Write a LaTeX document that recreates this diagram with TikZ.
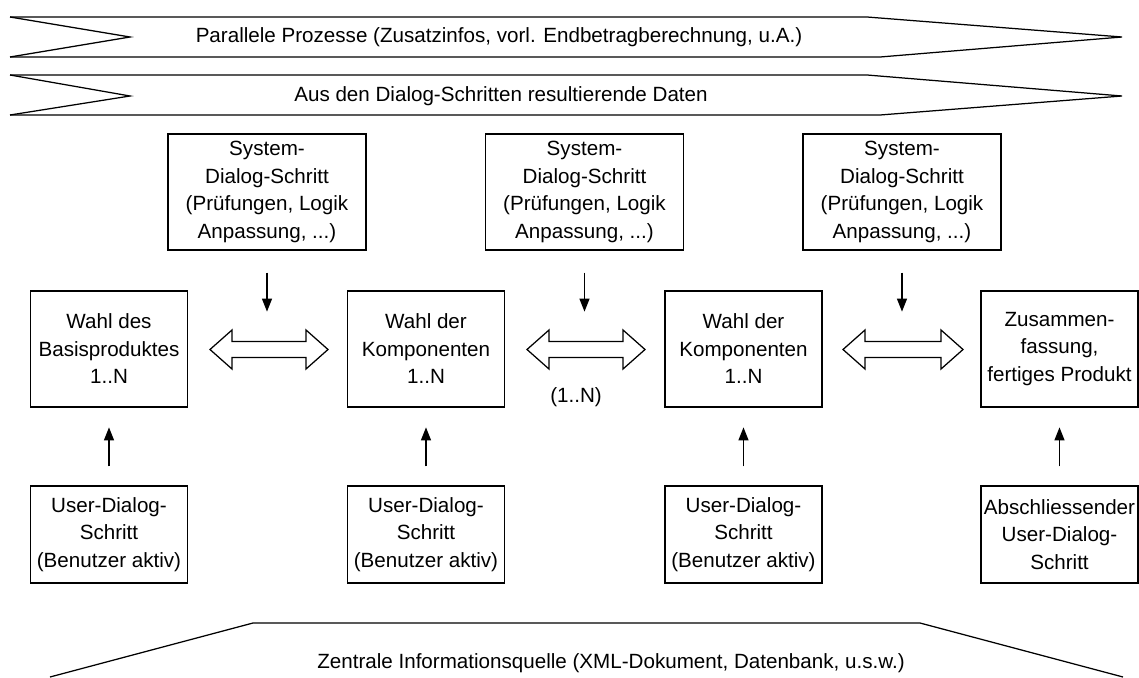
\documentclass[tikz,border=0pt]{standalone}
\usepackage{fontspec}
\setmainfont{Liberation Sans}
\usetikzlibrary{arrows.meta,calc}

% double-headed block arrow between two coordinates on one horizontal line
\newcommand{\blockarrow}[2]{%
  \draw[blockarrow] let \p1=(#1), \p2=(#2) in
    (\x1,\y1) -- (\x1+22pt,\y1+19.5pt) -- (\x1+22pt,\y1+8pt) --
    (\x2-22pt,\y1+8pt) -- (\x2-22pt,\y1+19.5pt) -- (\x2,\y1) --
    (\x2-22pt,\y1-19.5pt) -- (\x2-22pt,\y1-8pt) --
    (\x1+22pt,\y1-8pt) -- (\x1+22pt,\y1-19.5pt) -- cycle;}

\begin{document}
\begin{tikzpicture}[x=1pt,y=-1pt,line width=1.25pt,
  txt/.style={font=\fontsize{20.6}{27.5}\selectfont,inner sep=0pt},
  box/.style={txt,draw,align=center,minimum height=116pt},
  sysbox/.style={box,minimum width=198pt},
  wahlbox/.style={box,minimum width=157pt},
  userbox/.style={box,minimum width=157pt,minimum height=97pt},
  flow/.style={-{Triangle[length=13pt,width=10pt]}},
  blockarrow/.style={draw,fill=white,line join=miter},
  banner/.style={line join=miter}]

\useasboundingbox (0,0) rectangle (1139,677);

% banners across the top
\draw[banner] (10,17) -- (130,37) -- (10,57);
\draw[banner] (10,17) -- (867,17) -- (1122,37) -- (880,57) -- (10,57);
\node[txt] (par) at (499,37) {Parallele Prozesse (Zusatzinfos, vorl. Endbetragberechnung, u.A.)};

\draw[banner] (10,75) -- (130,96) -- (10,115);
\draw[banner] (10,75) -- (867,75) -- (1122,96) -- (880,115) -- (10,115);
\node[txt] (daten) at (501,96) {Aus den Dialog-Schritten resultierende Daten};

% system dialog steps
\node[sysbox] (s1) at (267,192) {System-\\Dialog-Schritt\\(Prüfungen, Logik\\Anpassung, ...)};
\node[sysbox] (s2) at (584.5,192) {System-\\Dialog-Schritt\\(Prüfungen, Logik\\Anpassung, ...)};
\node[sysbox] (s3) at (902,192) {System-\\Dialog-Schritt\\(Prüfungen, Logik\\Anpassung, ...)};

% selection steps
\node[wahlbox] (m1) at (109,349) {Wahl des\\Basisproduktes\\1..N};
\node[wahlbox] (m2) at (426,349) {Wahl der\\Komponenten\\1..N};
\node[wahlbox] (m3) at (743.5,349) {Wahl der\\Komponenten\\1..N};
\node[wahlbox] (m4) at (1059.5,349) {Zusammen-\\fassung,\\fertiges Produkt};

% user dialog steps
\node[userbox] (u1) at (109,534.5) {User-Dialog-\\Schritt\\(Benutzer aktiv)};
\node[userbox] (u2) at (426,534.5) {User-Dialog-\\Schritt\\(Benutzer aktiv)};
\node[userbox] (u3) at (743.5,534.5) {User-Dialog-\\Schritt\\(Benutzer aktiv)};
\node[userbox] (u4) at (1059.5,534.5) {Abschliessender\\User-Dialog-\\Schritt};

% block arrows between the selection steps
\coordinate (a1l) at (210,349.5);
\coordinate (a1r) at (328,349.5);
\coordinate (a2l) at (527,349.5);
\coordinate (a2r) at (645,349.5);
\coordinate (a3l) at (843,349.5);
\coordinate (a3r) at (963,349.5);
\blockarrow{a1l}{a1r}
\blockarrow{a2l}{a2r}
\blockarrow{a3l}{a3r}
\node[txt] (rep) at (576,397) {(1..N)};

% system steps act on the transitions
\foreach \s in {s1,s2,s3}
  \draw[flow] ($(\s.south)+(0,22)$) -- ++(0,39);

% user input into the selection steps
\foreach \u in {u1,u2,u3,u4}
  \draw[flow] ($(\u.north)+(0,-19)$) -- ++(0,-39);

% central information source
\draw[banner] (50,677) -- (253,623) -- (920,623) -- (1123,677);
\node[txt] (quelle) at (611,663) {Zentrale Informationsquelle (XML-Dokument, Datenbank, u.s.w.)};

\end{tikzpicture}
\end{document}
